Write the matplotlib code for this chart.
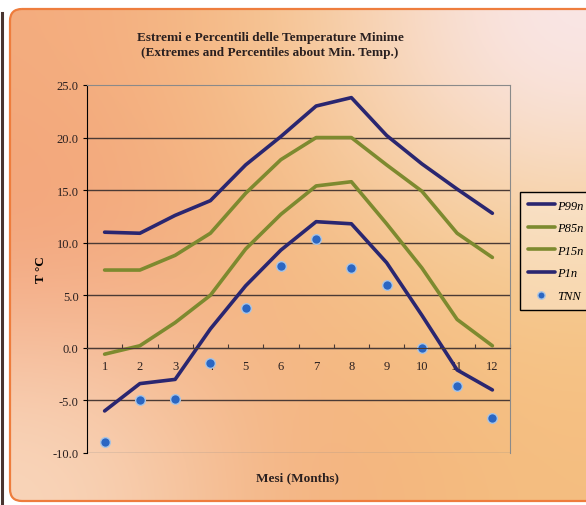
import numpy as np
import matplotlib.pyplot as plt
from matplotlib.patches import FancyBboxPatch

months = list(range(1, 13))
p99n = [11.0, 10.9, 12.6, 14.0, 17.4, 20.1, 23.0, 23.8, 20.2, 17.5, 15.1, 12.8]
p85n = [7.4, 7.4, 8.8, 10.9, 14.7, 17.9, 20.0, 20.0, 17.4, 14.9, 10.9, 8.6]
p15n = [-0.6, 0.2, 2.4, 5.0, 9.4, 12.7, 15.4, 15.8, 11.8, 7.6, 2.7, 0.2]
p1n = [-6.0, -3.4, -3.0, 1.8, 5.9, 9.3, 12.0, 11.8, 8.1, 3.1, -2.1, -4.0]
tnn = [-9.0, -5.0, -4.9, -1.4, 3.8, 7.8, 10.4, 7.6, 6.0, 0.0, -3.6, -6.7]
yticks = [-10, -5, 0, 5, 10, 15, 20, 25]

serif = ['Liberation Serif', 'DejaVu Serif']
navy = '#2a2670'
olive = '#7d8a2f'

fig = plt.figure(figsize=(5.86, 5.06), dpi=100, facecolor='white')

# background panel in pixel coordinates
bg = fig.add_axes([0, 0, 1, 1])
bg.set_xlim(0, 586)
bg.set_ylim(506, 0)
bg.axis('off')

colors = np.array([
    [[244, 172, 126], [246, 198, 142], [250, 232, 236]],
    [[242, 160, 120], [244, 188, 130], [246, 204, 144]],
    [[249, 216, 190], [243, 174, 124], [245, 190, 128]],
]) / 255.0
panel = FancyBboxPatch((10, 10), 620, 492, boxstyle="round,pad=0,rounding_size=12",
                       facecolor='none', edgecolor='#ee7d3d', linewidth=1.6, zorder=2)
bg.add_patch(panel)
img = bg.imshow(colors, extent=(0, 586, 506, 0), interpolation='bicubic', aspect='auto', zorder=1)
img.set_clip_path(panel)
bg.plot([1.5, 1.5], [14, 506], color='#4a3530', lw=2.2, zorder=3)

fig.text(270 / 586, 1 - 45.5 / 506, "Estremi e Percentili delle Temperature Minime\n(Extremes and Percentiles about Min. Temp.)",
         ha='center', va='center', fontsize=9.5, fontweight='bold', family=serif,
         color='#2a2020', linespacing=1.25)

ax = fig.add_axes([87 / 586, 1 - 454 / 506, 423 / 586, 368 / 506])
ax.patch.set_alpha(0)

ax.plot(months, p99n, color=navy, lw=2.6, label='P99n', solid_capstyle='round')
ax.plot(months, p85n, color=olive, lw=2.6, label='P85n', solid_capstyle='round')
ax.plot(months, p15n, color=olive, lw=2.6, label='P15n', solid_capstyle='round')
ax.plot(months, p1n, color=navy, lw=2.6, label='P1n', solid_capstyle='round')
ax.plot(months, tnn, linestyle='none', marker='o', markersize=7, color='#2b66c2',
        markeredgecolor='#a8c4e4', markeredgewidth=1.0, label='TNN')

ax.set_xlim(0.5, 12.5)
ax.set_ylim(-10, 25)
ax.set_yticks(yticks)
ax.set_yticklabels([f"{v:.1f}" for v in yticks], family=serif, fontsize=9, color='#2a2020')
for v in yticks[1:-1]:
    ax.axhline(v, color='#4a3a35', lw=1.0, zorder=0.5)
ax.axhline(-10, color='#8a8a8a', lw=1.0, zorder=0.5)

# category axis sits on the zero line, ticks between months
ax.spines['bottom'].set_position(('data', 0))
ax.spines['bottom'].set_color('#4a3a35')
ax.spines['top'].set_color('#8a8a8a')
ax.spines['right'].set_color('#8a8a8a')
ax.spines['left'].set_color('black')
ax.set_xticks(np.arange(0.5, 13, 1))
ax.set_xticklabels([])
ax.set_xticks(months, minor=True)
ax.set_xticklabels([str(m) for m in months], minor=True, family=serif, fontsize=9, color='#2a2020')
ax.tick_params(axis='x', which='major', direction='in', length=3, color='#4a3a35')
ax.tick_params(axis='x', which='minor', length=0, pad=9)
ax.tick_params(axis='y', direction='out', length=3, pad=3)

ax.set_ylabel("T °C", family=serif, fontsize=9.5, fontweight='bold', labelpad=4)
fig.text(298 / 586, 1 - 478 / 506, "Mesi (Months)", ha='center', va='center',
         family=serif, fontsize=9.5, fontweight='bold', color='#2a2020')

leg = ax.legend(loc='upper left', bbox_to_anchor=(520 / 586, 1 - 193 / 506),
                bbox_transform=fig.transFigure, frameon=True, fancybox=False,
                prop={'family': serif, 'style': 'italic', 'size': 9},
                handlelength=2.2, handletextpad=0.15, labelspacing=0.85,
                borderpad=0.6, borderaxespad=0, markerscale=0.75)
frame = leg.get_frame()
frame.set_alpha(None)
frame.set_facecolor((1, 1, 1, 0.3))
frame.set_edgecolor('black')
frame.set_linewidth(1.0)

fig.savefig("out.png", dpi=100)
